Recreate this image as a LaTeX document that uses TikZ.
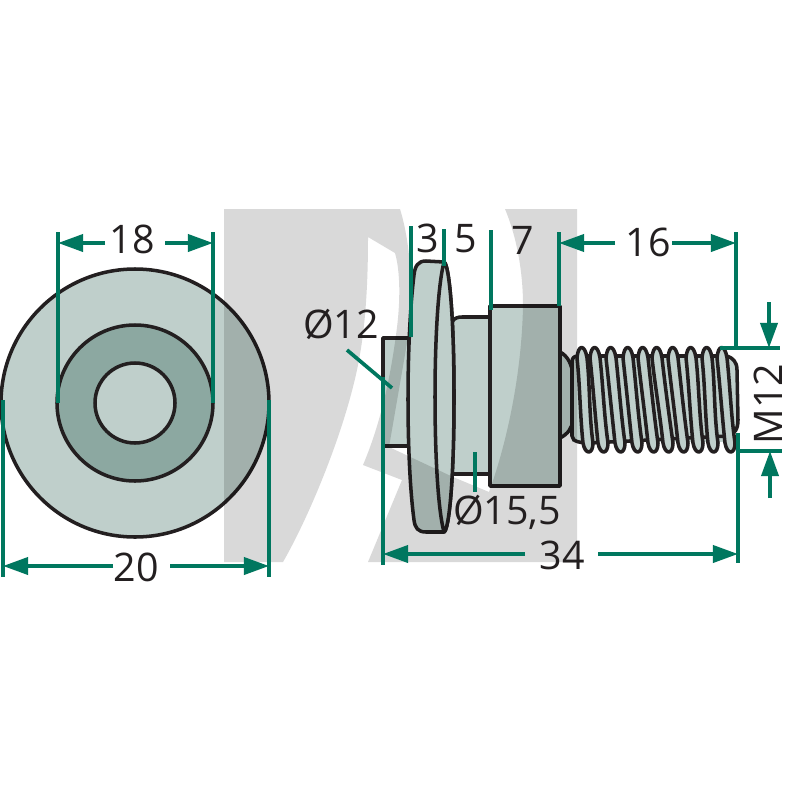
\documentclass[tikz,border=0pt]{standalone}
\usepackage{fontspec}
\setmainfont{Open Sans}
\usetikzlibrary{arrows.meta}
\definecolor{partlight}{HTML}{BFCFCB}
\definecolor{partdark}{HTML}{8CA8A1}
\definecolor{inkline}{HTML}{231F20}
\definecolor{dimgreen}{HTML}{00775F}
\definecolor{markgrey}{HTML}{D9D9D9}
\tikzset{
  part/.style={draw=inkline,fill=partlight,line width=1pt,line join=round},
  dim/.style={draw=dimgreen,line width=1.05pt},
  dimarrow/.style={dim,-{Triangle[length=0.25cm,width=0.17cm]}},
  dimlabel/.style={text=inkline,inner sep=0pt,font=\fontsize{11.2}{13}\selectfont}
}
\begin{document}
\begin{tikzpicture}[x=0.01cm,y=-0.01cm]
	\useasboundingbox (0,0) rectangle (800,800);
	\fill[white] (0,0) rectangle (800,800);

	% Draw front view
	\draw[part] (135,403) circle (134);
	\draw[part,fill=partdark] (135,403) circle (78);
	\draw[part] (135,403) circle (40);

	% Draw side view
	\fill[partlight] (572,357) rectangle (730,442);
	\draw[part] (560,352) .. controls (568,356) and (572,365) .. (573,375) -- (573,420)
		.. controls (572,428) and (568,434) .. (560,438) -- cycle;
	\draw[part] (383,338) rectangle (409,446);
	\draw[part] (452,322) .. controls (454,318) and (458,317) .. (462,317) -- (491,317)
		-- (491,474) -- (452,474) -- cycle;
	\draw[part] (490,306) rectangle (560,486);
	\draw[part] (444,262) -- (426,261) .. controls (418,261) and (415,266) .. (414,275)
		.. controls (406,340) and (406,460) .. (414,520)
		.. controls (415,528) and (418,532) .. (426,532) -- (444,532)
		.. controls (449,530) and (454,480) .. (454,397)
		.. controls (454,315) and (449,264) .. (444,262) -- cycle;
	\draw[part] (444,262) .. controls (438,285) and (435,340) .. (435,397)
		.. controls (435,455) and (438,510) .. (444,532)
		.. controls (449,530) and (454,480) .. (454,397)
		.. controls (454,315) and (449,264) .. (444,262) -- cycle;

	% Draw thread
	\draw[part] (578,356) -- (727,356) .. controls (733,358) and (737,362) .. (737,370)
		-- (738,420) .. controls (738,430) and (734,434) .. (728,436)
		-- (590,443) .. controls (582,443) and (572,442) .. (572,436)
		-- (572,362) .. controls (572,358) and (574,356) .. (578,356) -- cycle;
	\foreach \xa/\xb in {582/588,595/603,611/620,628/637,643/653,657/668,673/683,691/698,707/713,722/730}
		\draw[part] (\xa-5,358) .. controls (\xa-4,344) and (\xa+3,344) .. (\xa+5,358)
			.. controls (\xa+8,385) and (\xb+1,415) .. (\xb+5,443)
			.. controls (\xb+5,455) and (\xb-3,455) .. (\xb-5,443)
			.. controls (\xb-8,415) and (\xa-2,385) .. (\xa-5,358) -- cycle;

	% Draw grey mark over the parts
	\begin{scope}[blend mode=multiply]
		\fill[markgrey] (224,209) -- (400,209) .. controls (414,255) and (412,310) .. (407,343)
			-- (389,447) -- (453,477) -- (489,492) .. controls (508,440) and (522,370) .. (523,305)
			.. controls (523,270) and (516,235) .. (505,209) -- (577,209) -- (577,562)
			-- (368,562) -- (402,480) -- (363,465) .. controls (380,425) and (390,380) .. (396,335)
			.. controls (401,300) and (400,270) .. (395,253) -- (368,237)
			.. controls (368,280) and (366,325) .. (358,365)
			.. controls (345,430) and (310,515) .. (283,562) -- (224,562) -- cycle;
	\end{scope}

	% Draw dimensions of front view
	\draw[dim] (58,232) -- (58,403);
	\draw[dim] (213,232) -- (213,403);
	\draw[dim] (3,400) -- (3,577);
	\draw[dim] (269,400) -- (269,577);
	\node[dimlabel] (dia18) at (132,239) {18};
	\node[dimlabel] (dia20) at (136,567) {20};
	\draw[dimarrow] (105,243) -- (58,243);
	\draw[dimarrow] (165,243) -- (213,243);
	\draw[dimarrow] (113,566) -- (3,566);
	\draw[dimarrow] (170,566) -- (269,566);

	% Draw dimensions of side view
	\draw[dim] (411,226) -- (411,337);
	\draw[dim] (444,229) -- (444,266);
	\draw[dim] (491,230) -- (491,310);
	\draw[dim] (559,232) -- (559,306);
	\draw[dim] (736,232) -- (736,348);
	\draw[dim] (738,433) -- (738,563);
	\draw[dim] (383,377) -- (383,565);
	\draw[dim] (720,348) -- (780,348);
	\draw[dim] (737,451) -- (782,451);
	\draw[dim] (347,350) -- (392,388);
	\draw[dim] (475,452) -- (475,492);
	\node[dimlabel] (len3) at (428,238) {3};
	\node[dimlabel] (len5) at (466,239) {5};
	\node[dimlabel] (len7) at (523,240) {7};
	\node[dimlabel] (len16) at (648,242) {16};
	\node[dimlabel] (len34) at (562,555) {34};
	\node[dimlabel] (dia12) at (341,324) {Ø12};
	\node[dimlabel] (dia155) at (507,512) {Ø15,5};
	\node[dimlabel,rotate=90] (threadm) at (768,404) {M12};
	\draw[dimarrow] (615,243) -- (559,243);
	\draw[dimarrow] (672,243) -- (736,243);
	\draw[dimarrow] (525,554) -- (383,554);
	\draw[dimarrow] (598,554) -- (738,554);
	\draw[dimarrow] (769,302) -- (769,348);
	\draw[dimarrow] (770,498) -- (770,451);
\end{tikzpicture}
\end{document}
